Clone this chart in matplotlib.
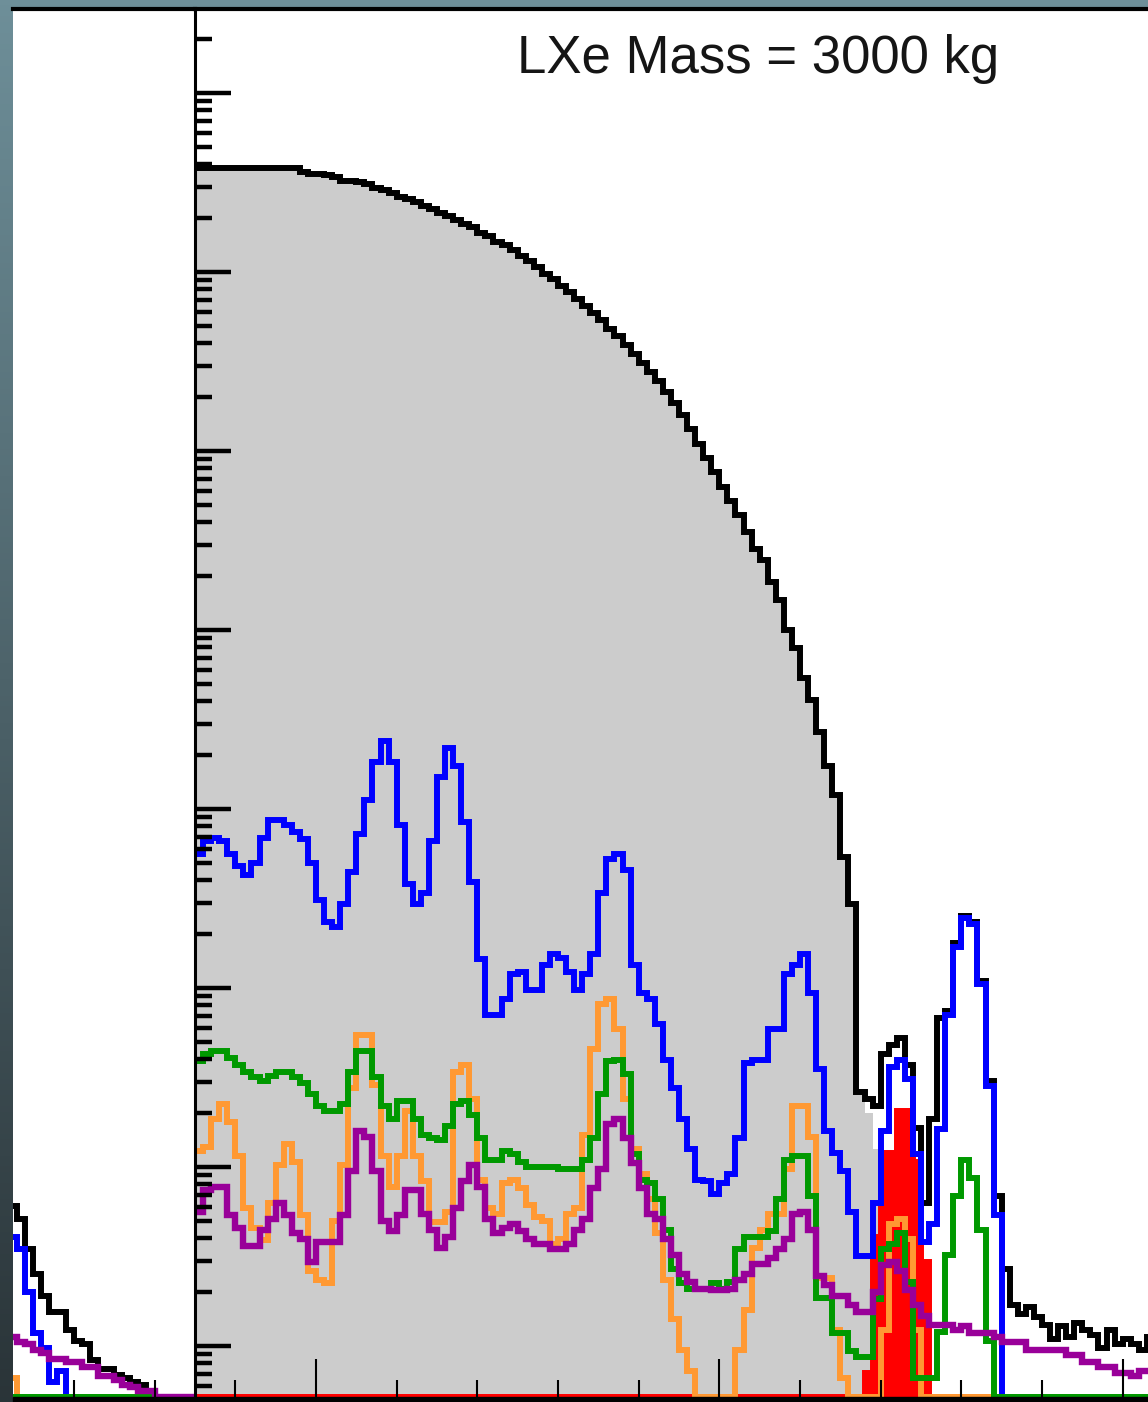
import numpy as np
import matplotlib.pyplot as plt
from matplotlib.patches import Rectangle
from matplotlib.ticker import LogLocator, MultipleLocator, FixedLocator, NullLocator, NullFormatter

# spectra in 10 keV bins, stored as log10(counts/bin); None = empty bin
# right panel: bins from 1850 keV, left panel: bins from 2820 keV
black_log = [5.58, 5.58, 5.58, 5.58, 5.58, 5.58, 5.58, 5.58, 5.58, 5.58,
             5.58, 5.58, 5.58, 5.56, 5.55, 5.55, 5.54, 5.53, 5.51, 5.51,
             5.50, 5.49, 5.47, 5.46, 5.44, 5.42, 5.41, 5.39, 5.37, 5.35,
             5.33, 5.31, 5.29, 5.27, 5.25, 5.22, 5.20, 5.17, 5.15, 5.12,
             5.09, 5.06, 5.03, 4.99, 4.96, 4.92, 4.89, 4.85, 4.81, 4.77,
             4.73, 4.68, 4.64, 4.59, 4.54, 4.49, 4.44, 4.39, 4.33, 4.27,
             4.20, 4.12, 4.04, 3.96, 3.88, 3.80, 3.72, 3.64, 3.55, 3.45,
             3.39, 3.27, 3.17, 3.00, 2.90, 2.73, 2.61, 2.43, 2.24, 2.08,
             1.73, 1.47, 0.42, 0.38, 0.34, 0.63, 0.68, 0.72, 0.57, 0.22,
             -0.20, 0.27, 0.83, 0.87, 1.25, 1.40, 1.37, 1.04, 0.48, -0.16,
             -0.57, -0.77, -0.82, -0.78, -0.84, -0.88, -0.96, -0.89, -0.95, -0.87,
             -0.91, -0.94, -1.01, -0.91, -0.99, -0.96, -0.99, -1.02, -0.95]

# filled 2nu component follows the total until it dies out
gray_log = black_log[:82] + [0.41, 0.30, 0.10]

blue_log = [1.75, 1.82, 1.84, 1.82, 1.75, 1.68, 1.63, 1.70, 1.84, 1.94,
            1.94, 1.91, 1.87, 1.83, 1.70, 1.49, 1.37, 1.34, 1.47, 1.65,
            1.86, 2.05, 2.26, 2.38, 2.26, 1.91, 1.58, 1.47, 1.53, 1.82,
            2.18, 2.34, 2.24, 1.93, 1.59, 1.16, 0.85, 0.85, 0.94, 1.08,
            1.09, 0.99, 0.99, 1.13, 1.19, 1.17, 1.09, 0.99, 1.08, 1.19,
            1.53, 1.72, 1.75, 1.66, 1.13, 0.97, 0.94, 0.80, 0.60, 0.44,
            0.27, 0.10, -0.07, -0.08, -0.15, -0.09, -0.04, 0.16, 0.58, 0.60,
            0.60, 0.77, 0.77, 1.08, 1.13, 1.19, 0.97, 0.55, 0.20, 0.08,
            -0.02, -0.25, -0.50, -0.50, -0.20, 0.20, 0.56, 0.60, 0.49, 0.07,
            -0.42, -0.32, 0.21, 0.85, 1.23, 1.39, 1.36, 1.02, 0.45, -0.27] + [None] * 19

green_log = [0.59, 0.63, 0.65, 0.65, 0.61, 0.57, 0.53, 0.50, 0.48, 0.51,
             0.53, 0.53, 0.50, 0.47, 0.41, 0.34, 0.31, 0.31, 0.35, 0.53,
             0.65, 0.65, 0.50, 0.34, 0.27, 0.37, 0.37, 0.27, 0.18, 0.16,
             0.15, 0.23, 0.35, 0.37, 0.29, 0.16, 0.04, 0.04, 0.09, 0.07,
             0.03, 0.00, 0.00, 0.00, 0.00, -0.01, -0.01, -0.01, 0.04, 0.16,
             0.41, 0.59, 0.60, 0.52, 0.07, -0.07, -0.09, -0.18, -0.35, -0.57,
             -0.65, -0.68, -0.68, -0.68, -0.65, -0.68, -0.64, -0.46, -0.39, -0.39,
             -0.39, -0.36, -0.18, 0.04, 0.06, 0.06, -0.16, -0.73, -0.73, -0.93,
             -0.93, -1.03, -1.06, -1.06, -0.74, -0.46, -0.43, -0.37, -0.64, -1.18,
             -1.18, -1.18, -0.92, -0.49, -0.16, 0.04, -0.06, -0.35, -0.97, None] + [None] * 19

orange_log = [0.09, 0.11, 0.27, 0.35, 0.25, 0.06, -0.23, -0.34, -0.41, -0.20,
              0.01, 0.13, 0.03, -0.27, -0.58, -0.63, -0.65, -0.30, 0.01, 0.44,
              0.74, 0.74, 0.46, 0.06, -0.11, 0.06, 0.31, 0.06, -0.08, -0.31,
              -0.31, -0.25, 0.53, 0.57, 0.38, -0.07, -0.23, -0.26, -0.09, -0.07,
              -0.12, -0.21, -0.28, -0.30, -0.43, -0.40, -0.26, -0.23, 0.18, 0.66,
              0.91, 0.94, 0.77, 0.38, 0.10, -0.04, -0.18, -0.37, -0.63, -0.85,
              -1.02, -1.14, None, None, None, None, None, -1.02, -0.80, -0.45,
              -0.35, -0.26, -0.26, -0.01, 0.34, 0.34, 0.17, -0.62, -0.62, -0.91,
              -1.18, None, None, None, None, -0.91, -0.32, -0.29, -0.40, -0.91] + [None] * 29

purple_log = [-0.25, -0.13, -0.11, -0.11, -0.27, -0.34, -0.44, -0.44, -0.35, -0.29,
              -0.20, -0.27, -0.37, -0.40, -0.53, -0.42, -0.42, -0.42, -0.27, -0.02,
              0.20, 0.17, -0.02, -0.30, -0.36, -0.27, -0.13, -0.13, -0.26, -0.35,
              -0.45, -0.39, -0.23, -0.08, 0.01, -0.11, -0.29, -0.37, -0.34, -0.32,
              -0.36, -0.40, -0.43, -0.43, -0.46, -0.46, -0.43, -0.35, -0.29, -0.12,
              -0.01, 0.24, 0.27, 0.16, 0.02, -0.12, -0.26, -0.29, -0.40, -0.49,
              -0.60, -0.64, -0.68, -0.68, -0.69, -0.69, -0.68, -0.63, -0.60, -0.54,
              -0.54, -0.51, -0.46, -0.40, -0.26, -0.25, -0.35, -0.61, -0.66, -0.72,
              -0.72, -0.77, -0.81, -0.81, -0.70, -0.55, -0.53, -0.58, -0.69, -0.77,
              -0.83, -0.88, -0.88, -0.88, -0.91, -0.89, -0.93, -0.93, -0.93, -0.95,
              -0.98, -0.98, -0.98, -1.02, -1.02, -1.02, -1.02, -1.02, -1.05, -1.05,
              -1.09, -1.09, -1.12, -1.12, -1.15, -1.15, -1.17, -1.14, -1.14]

red_log = [None] * 83 + [-1.15, -0.39, 0.08, 0.08, 0.31, 0.31, 0.03, -0.53] + [None] * 28

black_left = [-0.22, -0.29, -0.46, -0.60, -0.72, -0.81, -0.81, -0.91, -0.97, -0.99,
              -1.08, -1.13, -1.13, -1.16, -1.18, -1.20, -1.22, -1.25] + [None] * 5
blue_left = [-0.39, -0.46, -0.70, -0.93, -1.01, -1.20, -1.14] + [None] * 16
purple_left = [-0.95, -0.98, -0.99, -1.02, -1.04, -1.07, -1.07, -1.09, -1.09, -1.12,
               -1.12, -1.17, -1.17, -1.19, -1.22, -1.23, -1.25, -1.25] + [None] * 5
orange_left = [-1.18] + [None] * 22
green_left = [None] * 23

W, H = 1148, 1402
YMIN, YMAX = 10 ** -1.285, 10 ** 6.469
LW = 4.3


def counts(logs):
    return np.array([YMIN if v is None else 10.0 ** v for v in logs])


def edges(logs, start):
    return start + 10 * np.arange(len(logs) + 1)


def hist(ax, logs, start, color, z, lw=LW):
    ax.stairs(counts(logs), edges(logs, start), baseline=None, color=color,
              lw=lw, zorder=z, joinstyle='miter')


fig = plt.figure(figsize=(W / 100, H / 100), dpi=100)

# slide background behind the canvas
bg = fig.add_axes([0, 0, 1, 1], zorder=-10)
top = np.array([110, 143, 153]) / 255
bot = np.array([42, 52, 56]) / 255
t = np.linspace(0, 1, 256)[:, None, None]
bg.imshow(top + (bot - top) * t, aspect='auto', extent=[0, 1, 0, 1])
bg.axis('off')

y0, y1 = 1397, 9
ax_l = fig.add_axes([13 / W, (H - y0) / H, (195 - 13) / W, (y0 - y1) / H])
ax_r = fig.add_axes([195 / W, (H - y0) / H, (1163 - 195) / W, (y0 - y1) / H])

# left panel
hist(ax_l, black_left, 2820, 'black', 3)
hist(ax_l, blue_left, 2820, '#0000ff', 4)
hist(ax_l, orange_left, 2820, '#ff9933', 5)
hist(ax_l, green_left, 2820, '#009900', 6)
hist(ax_l, purple_left, 2820, '#990099', 7, lw=4.6)
ax_l.set_xlim(2825, 3050)

# right panel
ax_r.stairs(counts(gray_log), edges(gray_log, 1850), fill=True, baseline=YMIN,
            color='#cccccc', lw=0, zorder=1)
ax_r.stairs(counts(red_log), edges(red_log, 1850), fill=True, baseline=YMIN,
            color='#ff0000', lw=0, zorder=2)
hist(ax_r, red_log, 1850, '#ff0000', 2)
hist(ax_r, black_log, 1850, 'black', 3)
hist(ax_r, blue_log, 1850, '#0000ff', 4)
hist(ax_r, orange_log, 1850, '#ff9933', 5)
hist(ax_r, green_log, 1850, '#009900', 6)
hist(ax_r, purple_log, 1850, '#990099', 7, lw=4.6)
ax_r.set_xlim(1850, 3050)

for ax in (ax_l, ax_r):
    ax.set_yscale('log')
    ax.set_ylim(YMIN, YMAX)
    ax.set_facecolor('white')
    for s in ('left', 'right', 'bottom'):
        ax.spines[s].set_visible(False)
    ax.spines['top'].set_linewidth(3)
    ax.spines['top'].set_zorder(10)
    ax.xaxis.set_zorder(10)
    ax.yaxis.set_zorder(10)
    ax.tick_params(which='both', direction='in', top=False, right=False,
                   labelbottom=False, labelleft=False)
    ax.tick_params(axis='x', which='major', length=27.4, width=1.5)
    ax.tick_params(axis='x', which='minor', length=12.2, width=1.5)

ax_l.xaxis.set_major_locator(NullLocator())
ax_l.xaxis.set_minor_locator(FixedLocator([2900, 3000]))
ax_l.yaxis.set_major_locator(NullLocator())
ax_l.yaxis.set_minor_locator(NullLocator())
ax_l.tick_params(axis='y', left=False)

ax_r.xaxis.set_major_locator(MultipleLocator(500))
ax_r.xaxis.set_minor_locator(MultipleLocator(100))
ax_r.yaxis.set_major_locator(LogLocator(base=10, numticks=20))
ax_r.yaxis.set_minor_locator(LogLocator(base=10, subs=np.arange(2, 10), numticks=20))
ax_r.yaxis.set_minor_formatter(NullFormatter())
ax_r.spines['left'].set_visible(True)
ax_r.spines['left'].set_linewidth(2.2)
ax_r.spines['left'].set_zorder(10)
ax_r.tick_params(axis='y', which='major', length=25.9, width=3.2)
ax_r.tick_params(axis='y', which='minor', length=12.2, width=3.2)

# bottom frame bar
fig.patches.append(Rectangle((13 / W, 0), 1, (H - y0) / H, transform=fig.transFigure,
                             color='black', zorder=20))

fig.text(758 / W, 1 - 73 / H, 'LXe Mass = 3000 kg', fontsize=38,
         family='Liberation Sans', color='#151515', ha='center', va='baseline')

plt.savefig('out.png', dpi=100)
